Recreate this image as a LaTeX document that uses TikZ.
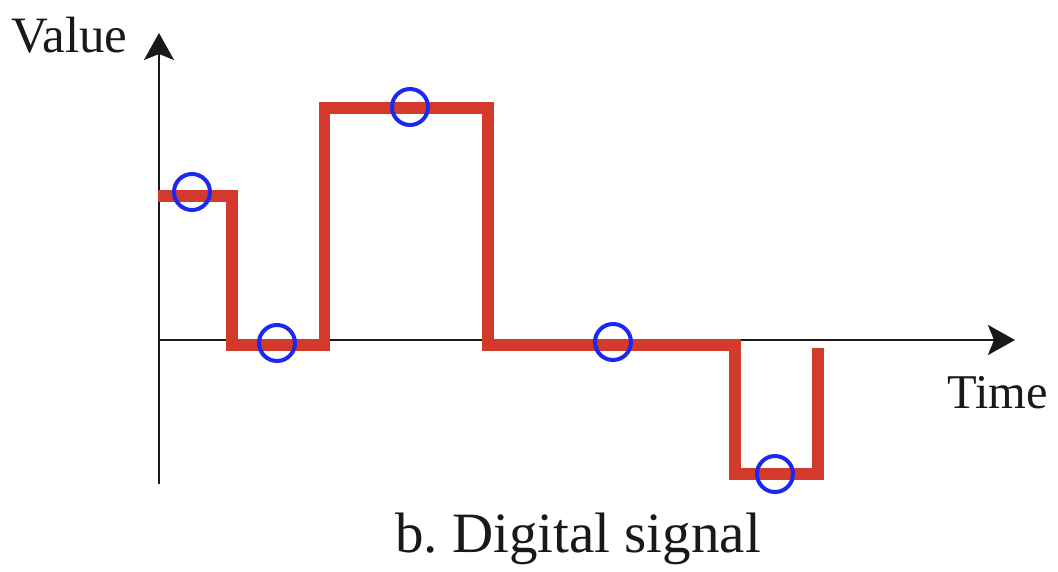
\documentclass[tikz,border=0pt]{standalone}
\usepackage{fontspec}
\setmainfont{Liberation Serif}
\usetikzlibrary{arrows.meta}
\definecolor{sigred}{RGB}{212,58,44}
\definecolor{sampblue}{RGB}{26,40,240}
\begin{document}
\frenchspacing
\begin{tikzpicture}[x=1pt,y=-1pt,
  axis/.style={line width=2.8pt, draw=black!90, -{Stealth[length=27pt,width=30pt,inset=6pt]}},
  signal/.style={line width=11.5pt, draw=sigred, line join=miter, line cap=butt},
  sample/.style={circle, draw=sampblue, line width=4pt, minimum size=36pt, inner sep=0pt},
  lbl/.style={inner sep=0pt, text=black!90}]
\useasboundingbox (0,0) rectangle (1058,572);
% axes
\coordinate (O) at (159,340);
\coordinate (ybot) at (159,484);
\coordinate (ytop) at (159,33);
\coordinate (xend) at (1015,340);
\draw[axis] (ybot) -- (ytop);
\draw[axis] (O) -- (xend);
% signal
\draw[signal] (158,196) -- (232,196) -- (232,345) -- (324.5,345) -- (324.5,108)
  -- (488,108) -- (488,345) -- (735,345) -- (735,474) -- (818,474) -- (818,348);
% samples
\node[sample] (s1) at (192,192) {};
\node[sample] (s2) at (277,343) {};
\node[sample] (s3) at (410,107) {};
\node[sample] (s4) at (613,342) {};
\node[sample] (s5) at (775,474) {};
% labels
\node[lbl, anchor=base west, font=\fontsize{51}{51}\selectfont] (value) at (11,53) {Value};
\node[lbl, anchor=base west, font=\fontsize{48.5}{48.5}\selectfont] (time) at (947,408) {Time};
\node[lbl, anchor=base west, font=\fontsize{57}{57}\selectfont] (cap) at (395,552) {b. Digital signal};
\end{tikzpicture}
\end{document}
